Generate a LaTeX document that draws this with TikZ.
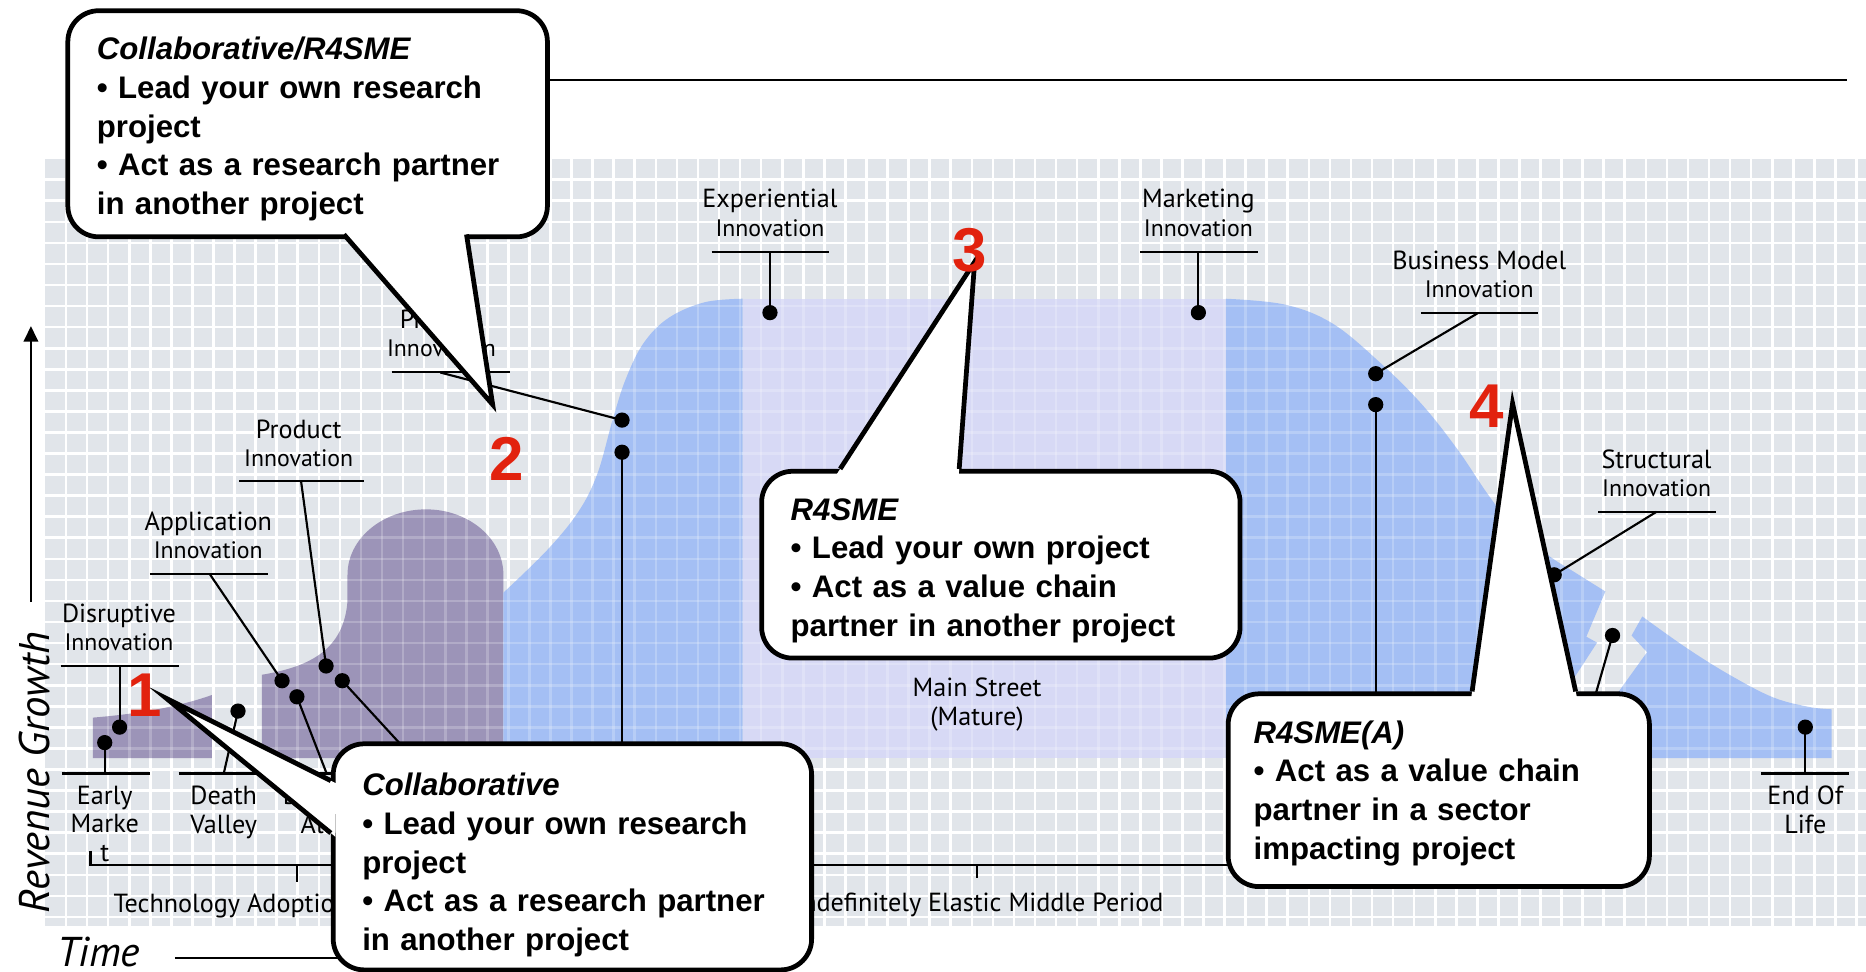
\documentclass[tikz,border=0pt]{standalone}
\usepackage{fontspec}
\usetikzlibrary{calc,arrows.meta}
\newfontfamily\cfont{Liberation Sans}
\newfontfamily\lfont{PT Sans}
\definecolor{gridbg}{RGB}{225,229,234}
\definecolor{purp}{RGB}{156,148,184}
\definecolor{bluea}{RGB}{164,191,244}
\definecolor{lav}{RGB}{215,217,245}
\definecolor{numred}{RGB}{226,34,14}
\tikzset{
  gridln/.style={white, line width=1.1pt},
  ann/.style={black, line width=0.9pt},
  dot/.style={circle, fill=black, inner sep=0pt, minimum size=6.4pt},
  lbl/.style={font=\lfont\fontsize{11}{12}\selectfont, inner sep=0pt, align=center},
  cbox/.style={draw=black, line width=2pt, fill=white, rounded corners=13pt, inner sep=0pt},
  ctext/.style={inner sep=0pt, align=left, font=\cfont\bfseries\fontsize{13.1}{16.25}\selectfont},
  ptr/.style={draw=black, line width=2pt, line join=miter},
  num/.style={text=numred, font=\cfont\bfseries\fontsize{26}{26}\selectfont, inner sep=0pt},
  axis/.style={black, line width=1pt},
}
\newcommand\smallinno{\fontsize{10}{12}\selectfont Innovation}
\begin{document}
\begin{tikzpicture}[x=0.5pt,y=-0.5pt]
\useasboundingbox (0,0) rectangle (1568,816);
\fill[white] (0,0) rectangle (1568,816);
% grid background
\fill[gridbg] (38,133.6) rectangle (1568,778);
\begin{scope}
\clip (38,133.6) rectangle (1568,778);
\foreach \i in {0,...,85} {\draw[gridln] ({55.5+17.7*\i},133.6) -- ({55.5+17.7*\i},778);}
\foreach \j in {0,...,35} {\draw[gridln] (38,{151+17.7*\j}) -- (1568,{151+17.7*\j});}
\end{scope}
% areas
\fill[purp] (78,637) -- (78,603) .. controls (115,600) and (150,594) .. (178,584) -- (178,637) -- cycle;
\fill[purp] (220,637) -- (220,567) .. controls (262,560) and (289,545) .. (292,505) -- (292,483)
  .. controls (292,452.6) and (321.6,428) .. (358,428) .. controls (394,428) and (423,452.6) .. (423,483) -- (423,637) -- cycle;
\fill[bluea] (423,637) -- plot[smooth,tension=0.6] coordinates {(423,498) (460,462) (486,430) (502,398) (515,352) (526,318) (541,288) (562,267) (592,254) (624,251)} -- (624,637) -- cycle;
\fill[lav] (624,251) rectangle (1030,637);
\fill[bluea] (1030,637) -- plot[smooth,tension=0.6] coordinates {(1030,251) (1080,256) (1120,272) (1160,305) (1195,340) (1225,378) (1250,415) (1272,443) (1300,466) (1325,482) (1349,497)} -- (1333,535) -- (1342,540) -- (1279,637) -- cycle;
\fill[bluea] (1320,637) -- (1361,580) -- (1384,548) -- (1371,534) -- plot[smooth,tension=0.6] coordinates {(1380,518) (1418,545) (1455,568) (1490,586) (1520,594) (1539,596)} -- (1539,637) -- cycle;
% grid overlay on areas
\begin{scope}
\clip (38,133.6) rectangle (1568,778);
\foreach \i in {0,...,85} {\draw[gridln, opacity=0.22] ({55.5+17.7*\i},133.6) -- ({55.5+17.7*\i},778);}
\foreach \j in {0,...,35} {\draw[gridln, opacity=0.22] (38,{151+17.7*\j}) -- (1568,{151+17.7*\j});}
\end{scope}
% axes
\coordinate (ybot) at (26,506); \coordinate (ytop) at (26,274);
\draw[axis, -{Triangle[length=6.5pt,width=6pt]}] (ybot) -- (ytop);
\node[font=\lfont\itshape\fontsize{18}{20}\selectfont, rotate=90, inner sep=0pt] (ylab) at (29,649) {Revenue Growth};
\node[font=\lfont\itshape\fontsize{17.5}{20}\selectfont, inner sep=0pt] (xlab) at (83,800) {Time};
\coordinate (tl0) at (147,805); \coordinate (tl1) at (420,805);
\draw[axis] (tl0) -- (tl1);
\coordinate (topl0) at (300,67); \coordinate (topl1) at (1552,67);
\draw[black, line width=0.8pt] (topl0) -- (topl1);
% timeline
\coordinate (tb0) at (76,715); \coordinate (tb1) at (76,727); \coordinate (tb2) at (1100,727);
\draw[axis] (tb0) -- (tb1) -- (tb2);
\draw[axis] (249.5,727) -- (249.5,741);
\draw[axis] (821,727) -- (821,738);
\node[lbl, anchor=west] (tal) at (95,761) {Technology Adoption Life Cycle};
\node[lbl, anchor=east] (iemp) at (978,760) {Indefinitely Elastic Middle Period};
\node[lbl] (mst) at (821,592) {Main Street\\(Mature)};
% underlines
\draw[ann] (51,559.6) -- (150,559.6);
\draw[ann] (52,650) -- (126,650);
\draw[ann] (150,650) -- (232,650);
\draw[ann] (245,650) -- (310,650);
\draw[ann] (126,482) -- (225,482);
\draw[ann] (201,404.5) -- (306,404.5);
\draw[ann] (329,312.6) -- (428.5,312.6);
\draw[ann] (598,211.5) -- (697,211.5);
\draw[ann] (958,211.5) -- (1057,211.5);
\draw[ann] (1194,263) -- (1292,263);
\draw[ann] (1343,430) -- (1442,430);
\draw[ann] (1480,650) -- (1554,650);
% label texts
\node[lbl, anchor=south] (ldisr) at (100,547.6) {Disruptive\\\smallinno};
\node[lbl, anchor=south] (lapp) at (175,470) {Application\\\smallinno};
\node[lbl, anchor=south] (lprod) at (251,393) {Product\\\smallinno};
\node[lbl, anchor=south] (lproc) at (371,300.6) {Process\\\smallinno};
\node[lbl, anchor=south] (lexp) at (647,199) {Experiential\\\smallinno};
\node[lbl, anchor=south] (lmkt) at (1007,199) {Marketing\\\smallinno};
\node[lbl, anchor=south] (lbm) at (1243,251) {Business Model\\\smallinno};
\node[lbl, anchor=south] (lstr) at (1392,418) {Structural\\\smallinno};
\node[lbl, anchor=north] (learly) at (88,660) {Early\\Marke\\t};
\node[lbl, anchor=north] (ldeath) at (188,660) {Death\\Valley};
\node[lbl, anchor=north] (lbowl) at (276,660) {Bowling\\Alley};
\node[lbl, anchor=north] (leol) at (1517,660) {End Of\\Life};
% dots
\node[dot] (ddisr) at (100.5,611) {};
\node[dot] (dearly) at (88,624) {};
\node[dot] (ddeath) at (200,597.5) {};
\node[dot] (dapp) at (237,572) {};
\node[dot] (dbowl) at (249.5,585.5) {};
\node[dot] (dprod) at (274,559.6) {};
\node[dot] (dtorn) at (287.6,572) {};
\node[dot] (dproc) at (522.7,353) {};
\node[dot] (dchasm) at (522.7,380) {};
\node[dot] (dexp) at (647,262.7) {};
\node[dot] (dmkt) at (1007,262.7) {};
\node[dot] (dbm) at (1156,314) {};
\node[dot] (dbm2) at (1156,340) {};
\node[dot] (dstr) at (1306,483) {};
\node[dot] (dstr2) at (1355,534) {};
\node[dot] (deol) at (1517,611) {};
% connectors
\coordinate (udisr) at (100.5,559.6);
\coordinate (uearly) at (88,650);
\coordinate (udeath) at (188,650);
\coordinate (uapp) at (176,482);
\coordinate (ubowl) at (274.5,650);
\coordinate (uprod) at (253,404.5);
\coordinate (utorn) at (350,640);
\coordinate (uproc) at (370,313);
\coordinate (uchasm) at (522.7,640);
\coordinate (uexp) at (647,211.5);
\coordinate (umkt) at (1007,211.5);
\coordinate (ubm) at (1242,263);
\coordinate (ubm2) at (1156,600);
\coordinate (ustr) at (1392,430);
\coordinate (ustr2) at (1336,600);
\coordinate (ueol) at (1517,650);
\draw[ann] (udisr) -- (ddisr.center);
\draw[ann] (dearly.center) -- (uearly);
\draw[ann] (ddeath.center) -- (udeath);
\draw[ann] (uapp) -- (dapp.center);
\draw[ann] (dbowl.center) -- (ubowl);
\draw[ann] (uprod) -- (dprod.center);
\draw[ann] (dtorn.center) -- (utorn);
\draw[ann] (uproc) -- (dproc.center);
\draw[ann] (dchasm.center) -- (uchasm);
\draw[ann] (uexp) -- (dexp.center);
\draw[ann] (umkt) -- (dmkt.center);
\draw[ann] (ubm) -- (dbm.center);
\draw[ann] (dbm2.center) -- (ubm2);
\draw[ann] (ustr) -- (dstr.center);
\draw[ann] (dstr2.center) -- (ustr2);
\draw[ann] (deol.center) -- (ueol);
% callout 1
\node[cbox, anchor=north west, minimum width=201.5pt, minimum height=95pt] (c1) at (55,7) {};
\coordinate (c1a) at (289,197); \coordinate (c1b) at (392,197); \coordinate (c1t) at (414,340);
\fill[white] (c1a) -- (c1t) -- (c1b) -- cycle;
\fill[white] ($(c1a)!-2.5pt!(c1t)$) -- ($(c1a)!2.5pt!(c1t)$) -- ($(c1b)!2.5pt!(c1t)$) -- ($(c1b)!-2.5pt!(c1t)$) -- cycle;
\draw[ptr] (c1a) -- (c1t) -- (c1b);
\node[ctext, anchor=west, text width=180pt] (c1txt) at ($(c1.west)+(26,4.5)$)
  {\textit{Collaborative/R4SME}\\• Lead your own research\\project\\• Act as a research partner\\in another project};
% callout 2
\node[cbox, anchor=north west, minimum width=201pt, minimum height=95pt] (c2) at (278,623) {};
\coordinate (c2a) at (278,656); \coordinate (c2b) at (278,700); \coordinate (c2t) at (140,587);
\fill[white] (c2a) -- (c2t) -- (c2b) -- cycle;
\fill[white] ($(c2a)!-2.5pt!(c2t)$) -- ($(c2a)!2.5pt!(c2t)$) -- ($(c2b)!2.5pt!(c2t)$) -- ($(c2b)!-2.5pt!(c2t)$) -- cycle;
\draw[ptr] (c2a) -- (c2t) -- (c2b);
\node[ctext, anchor=west, text width=180pt] (c2txt) at ($(c2.west)+(26,7)$)
  {\textit{Collaborative}\\• Lead your own research\\project\\• Act as a research partner\\in another project};
% callout 3
\node[cbox, anchor=north west, minimum width=201pt, minimum height=78.5pt] (c3) at (638,394) {};
\coordinate (c3a) at (706,394); \coordinate (c3b) at (806,394); \coordinate (c3t) at (819,220);
\fill[white] (c3a) -- (c3t) -- (c3b) -- cycle;
\fill[white] ($(c3a)!-2.5pt!(c3t)$) -- ($(c3a)!2.5pt!(c3t)$) -- ($(c3b)!2.5pt!(c3t)$) -- ($(c3b)!-2.5pt!(c3t)$) -- cycle;
\draw[ptr] (c3a) -- (c3t) -- (c3b);
\node[ctext, anchor=west, text width=180pt] (c3txt) at ($(c3.west)+(26,5)$)
  {\textit{R4SME}\\• Lead your own project\\• Act as a value chain\\partner in another project};
% callout 4
\node[cbox, anchor=north west, minimum width=177pt, minimum height=81pt] (c4) at (1030,581) {};
\coordinate (c4a) at (1237,581); \coordinate (c4b) at (1324,581); \coordinate (c4t) at (1271,339);
\fill[white] (c4a) -- (c4t) -- (c4b) -- cycle;
\fill[white] ($(c4a)!-2.5pt!(c4t)$) -- ($(c4a)!2.5pt!(c4t)$) -- ($(c4b)!2.5pt!(c4t)$) -- ($(c4b)!-2.5pt!(c4t)$) -- cycle;
\draw[ptr] (c4a) -- (c4t) -- (c4b);
\node[ctext, anchor=west, text width=160pt] (c4txt) at ($(c4.west)+(23,2.5)$)
  {\textit{R4SME(A)}\\• Act as a value chain\\partner in a sector\\impacting project};
% numbers
\node[num] (n1) at (122,584) {1};
\node[num] (n2) at (426,386) {2};
\node[num] (n3) at (815,210) {3};
\node[num] (n4) at (1249,341) {4};
\end{tikzpicture}
\end{document}
